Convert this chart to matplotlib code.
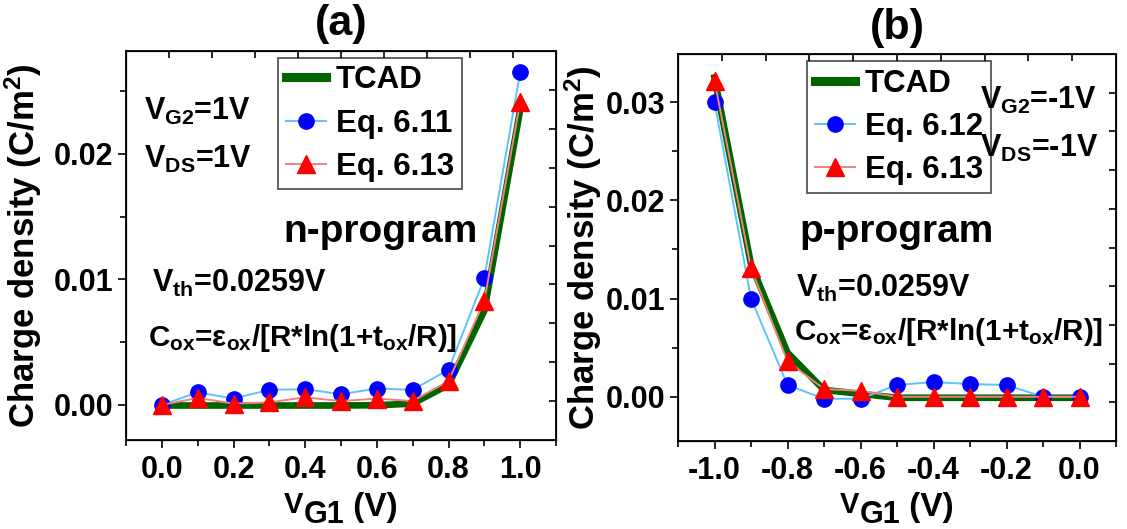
import numpy as np
import matplotlib
matplotlib.use("Agg")
import matplotlib.pyplot as plt
from matplotlib import font_manager as fm
from matplotlib.ticker import MultipleLocator, FormatStrFormatter

# ---------------------------------------------------------------- data
vg1_n = [0.0, 0.1, 0.2, 0.3, 0.4, 0.5, 0.6, 0.7, 0.8, 0.9, 1.0]
tcad_n = [-0.00005, -0.00005, -0.00005, -0.00005, -0.00005, -0.00005,
          -0.00003, 0.0001, 0.0016, 0.0075, 0.0235]
eq611_n = [0.0, 0.0010, 0.0005, 0.0012, 0.00125, 0.00085,
           0.0013, 0.0012, 0.0028, 0.0101, 0.0265]
eq613_n = [0.0, 0.00055, 0.0001, 0.0002, 0.0006, 0.0003,
           0.0005, 0.0003, 0.0019, 0.0083, 0.0241]

vg1_p = [-1.0, -0.9, -0.8, -0.7, -0.6, -0.5, -0.4, -0.3, -0.2, -0.1, 0.0]
tcad_p = [0.0325, 0.0135, 0.0045, 0.0007, 0.0003, -0.0001,
          -0.0001, -0.0001, -0.0001, -0.0001, -0.0001]
eq612_p = [0.0300, 0.0100, 0.0012, -0.0002, -0.0002, 0.0012,
           0.0015, 0.0013, 0.0012, 0.0, 0.0]
eq613_p = [0.0322, 0.0131, 0.0036, 0.0008, 0.0006, 0.0,
           0.0, 0.0, 0.0, 0.0, 0.0]

labels_n = ["TCAD", "Eq. 6.11", "Eq. 6.13"]
labels_p = ["TCAD", "Eq. 6.12", "Eq. 6.13"]

# ---------------------------------------------------------------- fonts
installed = {f.name for f in fm.fontManager.ttflist}
NARROW = "Liberation Sans Narrow" if "Liberation Sans Narrow" in installed else "Liberation Sans"
WIDE = "Liberation Sans"

plt.rcParams["font.family"] = [NARROW, WIDE, "DejaVu Sans"]
plt.rcParams["font.weight"] = "bold"
plt.rcParams["axes.labelweight"] = "bold"
plt.rcParams["axes.unicode_minus"] = False
plt.rcParams["mathtext.fontset"] = "custom"
plt.rcParams["mathtext.bf"] = f"{NARROW}:bold"
plt.rcParams["mathtext.rm"] = f"{NARROW}:bold"
plt.rcParams["mathtext.default"] = "bf"

W, H = 1127, 529
fig = plt.figure(figsize=(W / 100, H / 100), dpi=100)

GREEN = "#006400"
LBLUE = "#5CC3FF"
LRED = "#F28080"


def px_axes(left, right, top, bottom):
    return [left / W, (H - bottom) / H, (right - left) / W, (bottom - top) / H]


def draw_panel(ax, x, tcad, eq_a, eq_b, labels):
    ax.plot(x, tcad, color=GREEN, lw=4.8, label=labels[0], zorder=2)
    ax.plot(x, eq_a, color=LBLUE, lw=1.4, marker="o", ms=11,
            mfc="blue", mec="blue", label=labels[1], zorder=3)
    ax.plot(x, eq_b, color=LRED, lw=1.4, marker="^", ms=13,
            mfc="red", mec="red", label=labels[2], zorder=4)
    for s in ax.spines.values():
        s.set_linewidth(1.3)
    ax.xaxis.set_major_locator(MultipleLocator(0.2))
    ax.xaxis.set_minor_locator(MultipleLocator(0.1))
    ax.xaxis.set_major_formatter(FormatStrFormatter("%.1f"))
    ax.yaxis.set_major_locator(MultipleLocator(0.01))
    ax.yaxis.set_minor_locator(MultipleLocator(0.005))
    ax.yaxis.set_major_formatter(FormatStrFormatter("%.2f"))
    ax.tick_params(which="major", direction="out", length=6, width=1.2,
                   labelsize=22, pad=3)
    ax.tick_params(which="minor", direction="out", length=4, width=1.2)
    ax.tick_params(axis="x", which="major", pad=5)

    # evenly spaced inner ticks along the top and right edges
    tx = ax.twiny()
    tx.set_xlim(0, 1)
    tx.set_xticks(np.arange(1, 10) / 10)
    tx.tick_params(direction="in", length=5, width=1.2, labeltop=False)
    ty = ax.twinx()
    ty.set_ylim(0, 1)
    ty.set_yticks(np.arange(1, 10) / 10)
    ty.tick_params(direction="in", length=5, width=1.2, labelright=False)


def add_legend(ax, anchor):
    leg = ax.legend(loc="upper left", bbox_to_anchor=anchor, fontsize=22.5,
                    frameon=True, fancybox=False, edgecolor="#555555",
                    framealpha=1, handlelength=1.3, handletextpad=0.3,
                    borderpad=0.25, labelspacing=0.42, borderaxespad=0,
                    numpoints=1)
    leg.get_frame().set_linewidth(1.3)
    leg.legend_handles[0].set_linewidth(6.5)
    leg.set_zorder(6)


def gate_label(xc):
    # "V" followed by a lowered, full-size "G1" and then " (V)"
    parts = [("V", 21, 513), ("G1", 22, 523), (" (V)", 24, 516)]
    r = fig.canvas.get_renderer()
    widths = []
    for s, size, _ in parts:
        t = fig.text(0, 0, s, fontsize=size)
        widths.append(t.get_window_extent(r).width)
        t.remove()
    x = xc - sum(widths) / 2
    for (s, size, base), w in zip(parts, widths):
        fig.text(x / W, (H - base) / H, s, fontsize=size,
                 ha="left", va="baseline")
        x += w


def ylabel(ax, xpos):
    ax.set_ylabel(r"Charge density (C/m$^{\mathbf{2}}$)", fontsize=25,
                  fontweight="bold", family=[WIDE, "DejaVu Sans"])
    ax.yaxis.set_label_coords(xpos, 0.5)


COX = r"C$_{\mathbf{ox}}$=ε$_{\mathbf{ox}}$/[R*ln(1+t$_{\mathbf{ox}}$/R)]"

# ---------------------------------------------------------------- panel (a)
ax1 = fig.add_axes(px_axes(126, 556, 51, 440))
draw_panel(ax1, vg1_n, tcad_n, eq611_n, eq613_n, labels_n)
ax1.set_xlim(-0.1, 1.1)
ax1.set_ylim(-0.0028, 0.0282)
add_legend(ax1, (0.353, 0.983))
ylabel(ax1, -0.19)

ax1.text(0.043, 0.823, r"V$_{\mathbf{G2}}$=1V", transform=ax1.transAxes,
         fontsize=22, va="baseline")
ax1.text(0.043, 0.700, r"V$_{\mathbf{DS}}$=1V", transform=ax1.transAxes,
         fontsize=22, va="baseline")
ax1.text(0.367, 0.510, "n-program", transform=ax1.transAxes,
         fontsize=28, va="baseline")
ax1.text(0.060, 0.380, r"V$_{\mathbf{th}}$=0.0259V", transform=ax1.transAxes,
         fontsize=22, va="baseline")
ax1.text(0.051, 0.241, COX, transform=ax1.transAxes, fontsize=21.3,
         va="baseline")

# ---------------------------------------------------------------- panel (b)
ax2 = fig.add_axes(px_axes(678, 1116, 54, 441))
draw_panel(ax2, vg1_p, tcad_p, eq612_p, eq613_p, labels_p)
ax2.set_xlim(-1.1, 0.1)
ax2.set_ylim(-0.0045, 0.0349)
add_legend(ax2, (0.294, 0.981))
ylabel(ax2, -0.17)

ax2.text(0.689, 0.858, r"V$_{\mathbf{G2}}$=-1V", transform=ax2.transAxes,
         fontsize=22, va="baseline", zorder=7)
ax2.text(0.689, 0.735, r"V$_{\mathbf{DS}}$=-1V", transform=ax2.transAxes,
         fontsize=22, va="baseline", zorder=7)
ax2.text(0.278, 0.515, "p-program", transform=ax2.transAxes,
         fontsize=28, va="baseline")
ax2.text(0.269, 0.372, r"V$_{\mathbf{th}}$=0.0259V", transform=ax2.transAxes,
         fontsize=22, va="baseline")
ax2.text(0.265, 0.260, COX, transform=ax2.transAxes, fontsize=21.3,
         va="baseline")

# ---------------------------------------------------------------- titles and x labels
fig.text(341 / W, 1 - 24 / H, "(a)", fontsize=31, ha="center", va="center")
fig.text(897 / W, 1 - 28 / H, "(b)", fontsize=31, ha="center", va="center")

fig.canvas.draw()
gate_label(341)
gate_label(897)

fig.savefig("out.png", dpi=100)
